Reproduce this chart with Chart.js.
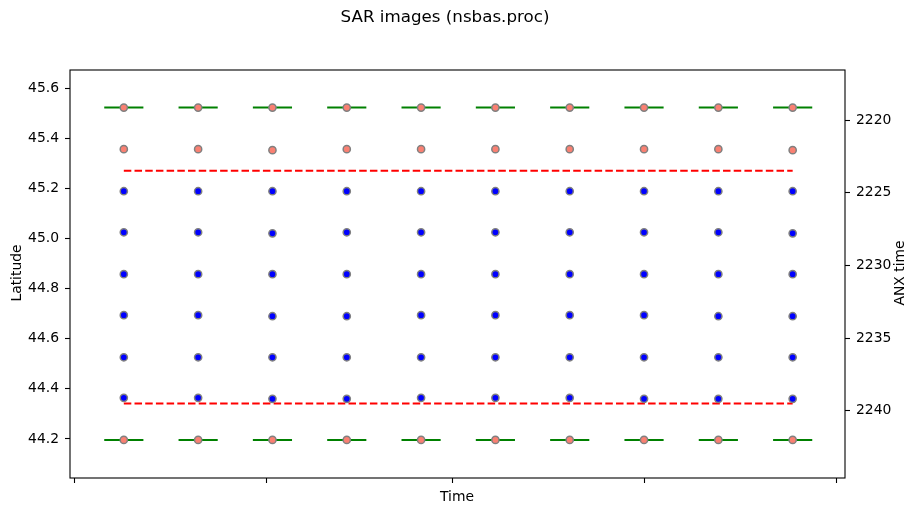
<!DOCTYPE html>
<html>
<head>
<meta charset="utf-8">
<title>SAR images (nsbas.proc)</title>
<script src="https://cdn.jsdelivr.net/npm/chart.js@4.4.1/dist/chart.umd.min.js"></script>
<style>
    html, body { margin: 0; padding: 0; background: #fff; }
    #wrap { width: 919px; height: 515px; position: relative; }
</style>
</head>
<body>
<div id="wrap"><canvas id="sarChart"></canvas></div>
<script>
// ===================== DATA =====================

// acquisition dates, in days after 1 Oct (12-day revisit)
const imageDays = [8, 20, 32, 44, 56, 68, 80, 92, 104, 116];
// month boundaries on the time axis (labels are not shown)
const monthTickDays = [0, 31, 61, 92, 123];

// burst latitudes per image, top to bottom
const firstBurstLat = [45.523, 45.523, 45.523, 45.523, 45.523, 45.523, 45.523, 45.523, 45.523, 45.523];
const burst2Lat = [45.357, 45.357, 45.353, 45.357, 45.357, 45.357, 45.357, 45.357, 45.357, 45.353];
const burst3Lat = [45.189, 45.189, 45.189, 45.189, 45.189, 45.189, 45.189, 45.189, 45.189, 45.189];
const burst4Lat = [45.025, 45.025, 45.021, 45.025, 45.025, 45.025, 45.025, 45.025, 45.025, 45.021];
const burst5Lat = [44.858, 44.858, 44.858, 44.858, 44.858, 44.858, 44.858, 44.858, 44.858, 44.858];
const burst6Lat = [44.694, 44.694, 44.690, 44.690, 44.694, 44.694, 44.694, 44.694, 44.690, 44.690];
const burst7Lat = [44.526, 44.526, 44.526, 44.526, 44.526, 44.526, 44.526, 44.526, 44.526, 44.526];
const burst8Lat = [44.364, 44.364, 44.360, 44.360, 44.364, 44.364, 44.364, 44.360, 44.360, 44.360];
const lastBurstLat = [44.196, 44.196, 44.196, 44.196, 44.196, 44.196, 44.196, 44.196, 44.196, 44.196];

// common latitude limits (red dashed)
const commonNorthLat = 45.271;
const commonSouthLat = 44.341;

// half width of the green markers, days
const markHalfDays = 3;

// axis ticks
const latTicks = [44.2, 44.4, 44.6, 44.8, 45.0, 45.2, 45.4, 45.6];
const anxTicks = [2220, 2225, 2230, 2235, 2240];

// ===================== HELPERS =====================

function toPoints(lats) {
    return imageDays.map((d, i) => ({ x: d, y: lats[i] }));
}

// horizontal segments, broken with null between images
function toSegments(lats) {
    const pts = [];
    imageDays.forEach((d, i) => {
        pts.push({ x: d - markHalfDays, y: lats[i] });
        pts.push({ x: d + markHalfDays, y: lats[i] });
        pts.push({ x: d + markHalfDays + 0.5, y: null });
    });
    return pts;
}

function flatLine(lat) {
    return [
        { x: imageDays[0], y: lat },
        { x: imageDays[imageDays.length - 1], y: lat }
    ];
}

const FONT = "'DejaVu Sans', 'Liberation Sans', sans-serif";

const salmonStyle = {
    type: 'scatter',
    backgroundColor: '#fa8072',
    borderColor: '#808080',
    borderWidth: 1.5,
    pointRadius: 3.6,
    order: 0
};
const blueStyle = {
    type: 'scatter',
    backgroundColor: '#0000ff',
    borderColor: '#808080',
    borderWidth: 1.5,
    pointRadius: 3.6,
    order: 0
};

// ===================== TEXT & FRAME PLUGIN =====================

const figureText = {
    id: 'figureText',
    afterDraw(chart) {
        const ctx = chart.ctx;
        const a = chart.chartArea;
        ctx.save();

        // axes frame
        ctx.strokeStyle = '#000';
        ctx.lineWidth = 1.1;
        ctx.strokeRect(a.left, a.top, a.right - a.left, a.bottom - a.top);

        ctx.fillStyle = '#000';
        ctx.textAlign = 'center';
        ctx.textBaseline = 'middle';

        ctx.font = '16.7px ' + FONT;
        ctx.fillText('SAR images (nsbas.proc)', 445, 18);

        ctx.font = '13.9px ' + FONT;
        ctx.fillText('Time', 457, 497);

        ctx.save();
        ctx.translate(17, 273);
        ctx.rotate(-Math.PI / 2);
        ctx.fillText('Latitude', 0, 0);
        ctx.restore();

        ctx.save();
        ctx.translate(900, 273);
        ctx.rotate(-Math.PI / 2);
        ctx.fillText('ANX time', 0, 0);
        ctx.restore();

        ctx.restore();
    }
};

// ===================== CHART =====================

const ctx = document.getElementById('sarChart').getContext('2d');
const sarChart = new Chart(ctx, {
    data: {
        datasets: [
            { ...salmonStyle, data: toPoints(firstBurstLat) },
            { ...salmonStyle, data: toPoints(burst2Lat) },
            { ...blueStyle, data: toPoints(burst3Lat) },
            { ...blueStyle, data: toPoints(burst4Lat) },
            { ...blueStyle, data: toPoints(burst5Lat) },
            { ...blueStyle, data: toPoints(burst6Lat) },
            { ...blueStyle, data: toPoints(burst7Lat) },
            { ...blueStyle, data: toPoints(burst8Lat) },
            { ...salmonStyle, data: toPoints(lastBurstLat) },
            {
                type: 'line',
                data: toSegments(firstBurstLat),
                borderColor: '#008000',
                borderWidth: 2,
                borderCapStyle: 'square',
                pointRadius: 0,
                spanGaps: false,
                order: 2
            },
            {
                type: 'line',
                data: toSegments(lastBurstLat),
                borderColor: '#008000',
                borderWidth: 2,
                borderCapStyle: 'square',
                pointRadius: 0,
                spanGaps: false,
                order: 2
            },
            {
                type: 'line',
                data: flatLine(commonNorthLat),
                borderColor: '#ff0000',
                borderWidth: 2,
                borderDash: [7.5, 3.2],
                pointRadius: 0,
                order: 1
            },
            {
                type: 'line',
                data: flatLine(commonSouthLat),
                borderColor: '#ff0000',
                borderWidth: 2,
                borderDash: [7.5, 3.2],
                pointRadius: 0,
                order: 1
            }
        ]
    },
    options: {
        responsive: true,
        maintainAspectRatio: false,
        animation: false,
        layout: {
            padding: { top: 70, left: 0, right: 0, bottom: 0 }
        },
        plugins: {
            legend: { display: false },
            title: { display: false },
            tooltip: { enabled: false }
        },
        scales: {
            x: {
                type: 'linear',
                position: 'bottom',
                min: -0.69,
                max: 124.45,
                afterBuildTicks: (scale) => {
                    scale.ticks = monthTickDays.map(v => ({ value: v }));
                },
                afterFit: (scale) => { scale.height = 37; },
                ticks: {
                    callback: () => '',
                    padding: 0
                },
                grid: {
                    drawOnChartArea: false,
                    color: '#000',
                    tickLength: 5,
                    tickWidth: 1.1
                },
                border: { display: false }
            },
            y: {
                type: 'linear',
                position: 'left',
                min: 44.044,
                max: 45.673,
                afterBuildTicks: (scale) => {
                    scale.ticks = latTicks.map(v => ({ value: v }));
                },
                afterFit: (scale) => { scale.width = 70; },
                ticks: {
                    color: '#000',
                    padding: 6,
                    font: { family: FONT, size: 13.9 },
                    callback: (v) => Number(v).toFixed(1)
                },
                grid: {
                    drawOnChartArea: false,
                    color: '#000',
                    tickLength: 5,
                    tickWidth: 1.1
                },
                border: { display: false }
            },
            y2: {
                type: 'linear',
                position: 'right',
                reverse: true,
                min: 2216.56,
                max: 2244.63,
                afterBuildTicks: (scale) => {
                    scale.ticks = anxTicks.map(v => ({ value: v }));
                },
                afterFit: (scale) => { scale.width = 74; },
                ticks: {
                    color: '#000',
                    padding: 6,
                    font: { family: FONT, size: 13.9 },
                    callback: (v) => String(v)
                },
                grid: {
                    drawOnChartArea: false,
                    color: '#000',
                    tickLength: 5,
                    tickWidth: 1.1
                },
                border: { display: false }
            }
        }
    },
    plugins: [figureText]
});
</script>
</body>
</html>
